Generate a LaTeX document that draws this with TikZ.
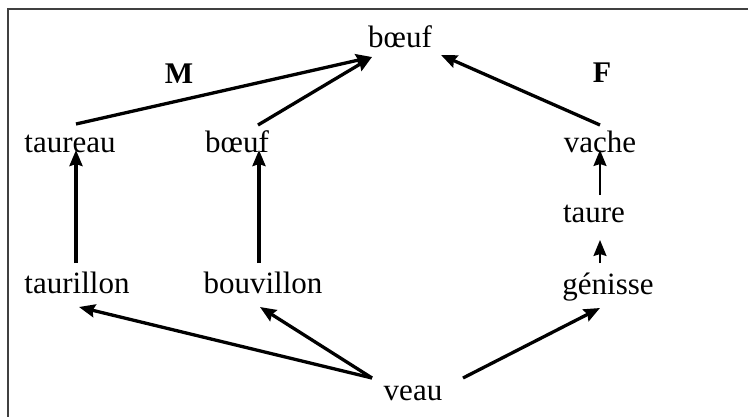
\documentclass[tikz,border=0pt]{standalone}
\usepackage{fontspec}
\setmainfont{Liberation Serif}
\usetikzlibrary{arrows.meta}

\begin{document}
\begin{tikzpicture}[x=1pt,y=-1pt,
      mot/.style={anchor=base,inner sep=0pt,font=\fontsize{31}{36}\selectfont},
      sexe/.style={mot,font=\fontsize{30}{36}\selectfont\bfseries},
      fleche/.style={-{Stealth[length=16pt,width=13pt,inset=2pt]},line width=3.3pt},
      flechefine/.style={fleche,line width=2pt}]
      \useasboundingbox (0,0) rectangle (748,416);
      % Cadre
      \draw[black!75,line width=2pt] (8,9) rectangle (800,460);

      % Mots
      \node[mot]  (boeuf)     at (400,47)  {bœuf};
      \node[sexe] (male)      at (179,83)  {M};
      \node[sexe] (femelle)   at (602,82)  {F};
      \node[mot]  (taureau)   at (70,152)  {taureau};
      \node[mot]  (boeufm)    at (237,152) {bœuf};
      \node[mot]  (vache)     at (600,152) {vache};
      \node[mot]  (taure)     at (594,222) {taure};
      \node[mot]  (taurillon) at (77,293)  {taurillon};
      \node[mot]  (bouvillon) at (263,293) {bouvillon};
      \node[mot]  (genisse)   at (608,294) {génisse};
      \node[mot]  (veau)      at (413,400) {veau};

      % Fleches
      \draw[fleche] ([shift={(6,-28)}]taureau.base)    -- ([shift={(-28,10)}]boeuf.base);
      \draw[fleche] ([shift={(21,-27)}]boeufm.base)    -- ([shift={(-28,10)}]boeuf.base);
      \draw[fleche] ([shift={(0,-27)}]vache.base)      -- ([shift={(41,8)}]boeuf.base);
      \draw[fleche] ([shift={(-1,-30)}]taurillon.base) -- ([shift={(6,-2)}]taureau.base);
      \draw[fleche] ([shift={(-4,-30)}]bouvillon.base) -- ([shift={(22,-2)}]boeufm.base);
      \draw[flechefine] ([shift={(6,-27)}]taure.base)  -- ([shift={(0,-2)}]vache.base);
      \draw[flechefine] ([shift={(-8,-31)}]genisse.base) -- ([shift={(6,18)}]taure.base);
      \draw[fleche] ([shift={(-41,-22)}]veau.base)     -- ([shift={(2,14)}]taurillon.base);
      \draw[fleche] ([shift={(-41,-22)}]veau.base)     -- ([shift={(-3,14)}]bouvillon.base);
      \draw[fleche] ([shift={(50,-22)}]veau.base)      -- ([shift={(-8,14)}]genisse.base);

\end{tikzpicture}
\end{document}
